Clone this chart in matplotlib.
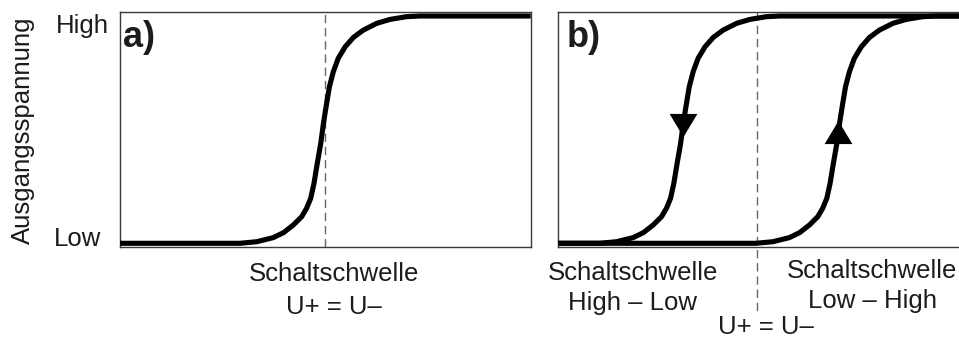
import numpy as np
import matplotlib
matplotlib.use("Agg")
import matplotlib.pyplot as plt

# ---- data ----
# shape of one switching step: offset from its threshold (x units) and output level (0=Low, 1=High)
step_dx = [-2.07, -1.66, -1.26, -1.01, -0.77, -0.57, -0.45, -0.35, -0.27, -0.19, -0.105,
           -0.04, 0.024, 0.105, 0.20, 0.32, 0.49, 0.69, 0.93, 1.26, 1.58, 1.98, 2.31]
step_y = [0.0, 0.007, 0.025, 0.047, 0.081, 0.117, 0.154, 0.198, 0.264, 0.352, 0.44,
          0.528, 0.601, 0.689, 0.755, 0.814, 0.865, 0.906, 0.938, 0.968, 0.985, 0.997, 1.0]
x_range = [0.0, 10.0]
threshold_a = 5.0            # U+ = U-
threshold_b_high_low = 3.08  # Schaltschwelle High - Low
threshold_b_low_high = 6.88  # Schaltschwelle Low - High
threshold_b_equal = 4.84     # U+ = U-
arrow_level_down = 0.52
arrow_level_up = 0.49
y_ticklabels = ["Low", "High"]

FONT = ["Liberation Sans", "DejaVu Sans"]
plt.rcParams["font.family"] = FONT
TXT = "#1c1c1c"
W, H = 959, 338
fig = plt.figure(figsize=(W / 100, H / 100), dpi=100)


def fx(px):
    return px / W


def fy(py):
    return 1 - py / H


ax_l, ax_w = 119.5, 411.2
ax_top, ax_bot = 12.0, 247.0
ax_a = fig.add_axes([fx(ax_l), fy(ax_bot), ax_w / W, (ax_bot - ax_top) / H])
ax_b = fig.add_axes([fx(558.3), fy(ax_bot), ax_w / W, (ax_bot - ax_top) / H])

dx = np.array(step_dx)
sy = np.array(step_y)


def step_curve(thr):
    xs = np.concatenate([[x_range[0]], thr + dx, [x_range[1]]])
    ys = np.concatenate([[0.0], sy, [1.0]])
    return xs, ys


LW = 3.7
for ax in (ax_a, ax_b):
    ax.set_xlim(*x_range)
    ax.set_ylim(-0.0163, 1.0176)
    ax.set_xticks([])
    ax.set_yticks([])
    for s in ax.spines.values():
        s.set_color("#3a3a3a")
        s.set_linewidth(1.0)
ax_b.spines["right"].set_visible(False)

# panel a
xa, ya = step_curve(threshold_a)
ax_a.plot(xa, ya, color="black", lw=LW, solid_joinstyle="round", solid_capstyle="butt", zorder=3)
ax_a.axvline(threshold_a, color="#666666", lw=1.0, dashes=(6, 3.5), zorder=2)

# panel b
for thr in (threshold_b_high_low, threshold_b_low_high):
    xb, yb = step_curve(thr)
    ax_b.plot(xb, yb, color="black", lw=LW, solid_joinstyle="round", solid_capstyle="butt", zorder=3)
ax_b.plot([threshold_b_equal, threshold_b_equal], [1.0176, -0.30], color="#666666", lw=1.0,
          dashes=(6, 3.5), zorder=2, clip_on=False)

# arrowheads on the hysteresis branches
down = [(-0.6, 0.5), (0.6, 0.5), (0.0, -0.5), (-0.6, 0.5)]
up = [(-0.6, -0.5), (0.6, -0.5), (0.0, 0.5), (-0.6, -0.5)]
xd = threshold_b_high_low + np.interp(arrow_level_down, sy, dx)
xu = threshold_b_low_high + np.interp(arrow_level_up, sy, dx)
ax_b.plot([xd], [arrow_level_down], marker=down, markersize=20, color="black", mec="black", mew=0, zorder=4)
ax_b.plot([xu], [arrow_level_up], marker=up, markersize=20, color="black", mec="black", mew=0, zorder=4)

FS = 18.5
# y labels
fig.text(fx(56), fy(33), y_ticklabels[1], fontsize=FS, color=TXT, ha="left", va="baseline")
fig.text(fx(54), fy(246.5), y_ticklabels[0], fontsize=FS, color=TXT, ha="left", va="baseline")
fig.text(fx(23), fy(130), "Ausgangsspannung", fontsize=FS, color=TXT, rotation=90,
         ha="center", va="center")

# panel letters
fig.text(fx(123), fy(47), "a)", fontsize=26, fontweight="bold", color=TXT, ha="left", va="baseline")
fig.text(fx(567), fy(47), "b)", fontsize=26, fontweight="bold", color=TXT, ha="left", va="baseline")

# bottom labels
fig.text(fx(334), fy(281), "Schaltschwelle", fontsize=FS, color=TXT, ha="center", va="baseline")
fig.text(fx(334), fy(314), "U+ = U\u2013", fontsize=FS, color=TXT, ha="center", va="baseline")
fig.text(fx(633), fy(280), "Schaltschwelle", fontsize=FS, color=TXT, ha="center", va="baseline")
fig.text(fx(633), fy(310), "High \u2013 Low", fontsize=FS, color=TXT, ha="center", va="baseline")
fig.text(fx(872), fy(278), "Schaltschwelle", fontsize=FS, color=TXT, ha="center", va="baseline")
fig.text(fx(872), fy(308), "Low \u2013 High", fontsize=FS, color=TXT, ha="center", va="baseline")
fig.text(fx(766), fy(334), "U+ = U\u2013", fontsize=FS, color=TXT, ha="center", va="baseline")

fig.savefig("out.png", dpi=100, facecolor="white")
